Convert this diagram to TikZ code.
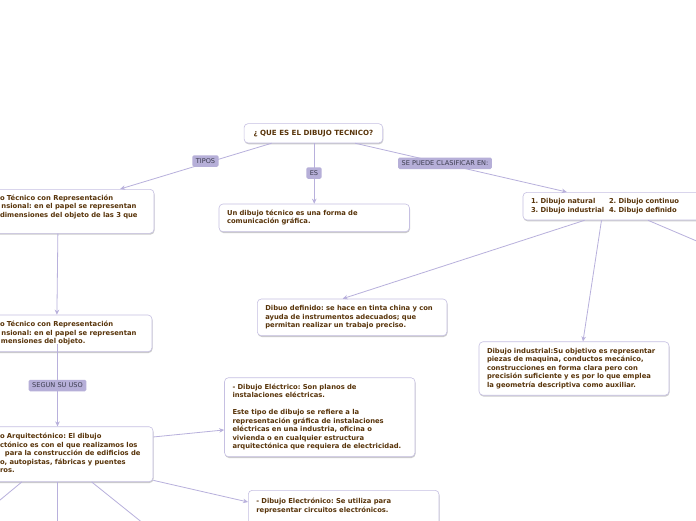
\documentclass[tikz,border=0pt]{standalone}
\usepackage{fontspec}
\setmainfont{DejaVu Sans}
\usetikzlibrary{shadows,arrows.meta,calc}
\definecolor{txtc}{RGB}{88,52,10}
\definecolor{linec}{RGB}{184,176,220}
\definecolor{bordc}{RGB}{198,192,226}
\definecolor{lblfill}{RGB}{182,175,216}
\definecolor{lbltxt}{RGB}{60,60,78}
\newcommand{\nodefnt}{\fontsize{6.8}{8.5}\selectfont\bfseries\frenchspacing}
\newcommand{\sline}[1]{\mbox{\strut#1}}
\tikzset{
  mbox/.style={draw=bordc, line width=0.6pt, fill=white, rounded corners=4pt,
    inner xsep=8pt, inner ysep=0pt, align=left, font=\nodefnt, text=txtc,
    drop shadow={shadow xshift=0.5pt, shadow yshift=-1.3pt, fill=black!40, opacity=0.5}},
  lbl/.style={fill=lblfill, rounded corners=1.5pt, font=\fontsize{6.6}{7}\selectfont,
    text=lbltxt, inner xsep=3.5pt, inner ysep=0pt, minimum height=11.5pt},
  conn/.style={draw=linec, line width=0.8pt},
  arr/.style={conn, -{Stealth[length=5pt,width=4.5pt]}},
}
\begin{document}
\begin{tikzpicture}[x=1pt,y=-1pt]
\path[use as bounding box, fill=white] (0,0) rectangle (696,520);
\clip (0,0) rectangle (696,520);

% nodes
\node[mbox, align=center, minimum width=138.7pt, minimum height=19.3pt, font=\fontsize{7.1}{8.5}\selectfont\bfseries]
  (root) at (313.4,133.3) {¿ QUE ES EL DIBUJO TECNICO?};

\node[mbox, text width=146pt, minimum height=44pt] (A) at (73,211.3)
  {\sline{o Técnico con Representación}\\
   \sline{\hspace*{1.5pt}nsional: en el papel se representan}\\
   \sline{dimensiones del objeto de las 3 que}\\
   \sline{}};

\node[mbox, text width=174.5pt, minimum height=27.7pt] (es) at (314.25,217.85)
  {\sline{Un dibujo técnico es una forma de}\\
   \sline{comunicación gráfica.}};

\node[mbox, text width=171pt, minimum height=27.7pt] (cls) at (616.5,206.15)
  {\sline{\makebox[78pt][l]{1. Dibujo natural}2. Dibujo continuo}\\
   \sline{\makebox[78pt][l]{3. Dibujo industrial}4. Dibujo definido}};

\node[mbox, text width=173.7pt, minimum height=36.7pt] (def) at (352.15,317.35)
  {\sline{Dibuo definido: se hace en tinta china y con}\\
   \sline{ayuda de instrumentos adecuados; que}\\
   \sline{permitan realizar un trabajo preciso.}};

\node[mbox, text width=174pt, minimum height=53.5pt] (ind) at (574,368.5)
  {\sline{Dibujo industrial:Su objetivo es representar}\\
   \sline{piezas de maquina, conductos mecánico,}\\
   \sline{construcciones en forma clara pero con}\\
   \sline{precisión suficiente y es por lo que emplea}\\
   \sline{la geometría descriptiva como auxiliar.}};

\node[mbox, text width=144pt, minimum height=36.7pt] (B) at (72,333.35)
  {\sline{o Técnico con Representación}\\
   \sline{\hspace*{1.5pt}nsional: en el papel se representan}\\
   \sline{\hspace*{1pt}mensiones del objeto.}};

\node[mbox, text width=174.5pt, minimum height=79pt] (elec) at (319.75,417.2)
  {\sline{- Dibujo Eléctrico: Son planos de}\\
   \sline{instalaciones eléctricas.}\\
   \sline{}\\
   \sline{Este tipo de dibujo se refiere a la}\\
   \sline{representación gráfica de instalaciones}\\
   \sline{eléctricas en una industria, oficina o}\\
   \sline{vivienda o en cualquier estructura}\\
   \sline{arquitectónica que requiera de electricidad.}};

\node[mbox, text width=145pt, minimum height=55pt] (Arq) at (72.5,454.2)
  {\sline{o Arquitectónico: El dibujo}\\
   \sline{ctónico es con el que realizamos los}\\
   \sline{\hspace*{5pt}para la construcción de edificios de}\\
   \sline{o, autopistas, fábricas y puentes}\\
   \sline{ros.}};

\node[mbox, text width=174.7pt, minimum height=49pt, anchor=north] (elt) at (343.65,490)
  {\sline{- Dibujo Electrónico: Se utiliza para}\\
   \sline{representar circuitos electrónicos.}\\
   \sline{}\\
   \sline{}};

% off-picture ends
\coordinate (offr) at (706,245);
\coordinate (offa) at (-12,510);
\coordinate (offb) at (57.3,526);
\coordinate (offc) at (146.5,526);
\coordinate (bstart) at (57.5,344);

% connectors
\draw[arr] ($(root.south west)!0.2!(root.south east)$) -- ($(A.north west)!0.79!(A.north east)$);
\draw[arr] (root.south -| es.north) -- (es.north);
\draw[arr] ($(root.south west)!0.8!(root.south east)$) -- ($(cls.north west)!0.235!(cls.north east)$);
\draw[arr] ($(A.south west)!0.407!(A.south east)$) -- ($(B.north west)!0.406!(B.north east)$);
\draw[arr] (bstart) -- (bstart |- Arq.north);
\draw[arr] ($(cls.south west)!0.33!(cls.south east)$) -- ($(def.north west)!0.45!(def.north east)$);
\draw[arr] ($(cls.south west)!0.42!(cls.south east)$) -- ($(ind.north west)!0.547!(ind.north east)$);
\draw[conn] ($(cls.south west)!0.668!(cls.south east)$) -- (offr);
\draw[arr] ($(Arq.north east)!0.19!(Arq.south east)$) -- ($(elec.north west)!0.66!(elec.south west)$);
\draw[arr] ($(Arq.north east)!0.97!(Arq.south east)$) -- ($(elt.north west)+(0,12)$);
\draw[conn] ($(Arq.south west)!0.186!(Arq.south east)$) -- (offa);
\draw[conn] (offb |- Arq.south) -- (offb);
\draw[conn] ($(Arq.south west)!0.619!(Arq.south east)$) -- (offc);

% labels
\node[lbl] (ltipos) at (205.5,161) {TIPOS};
\node[lbl] (les) at (314,173) {ES};
\node[lbl] (lse) at (445,163.3) {SE PUEDE CLASIFICAR EN:};
\node[lbl] (lseg) at (57.5,385.5) {SEGUN SU USO};
\end{tikzpicture}
\end{document}
